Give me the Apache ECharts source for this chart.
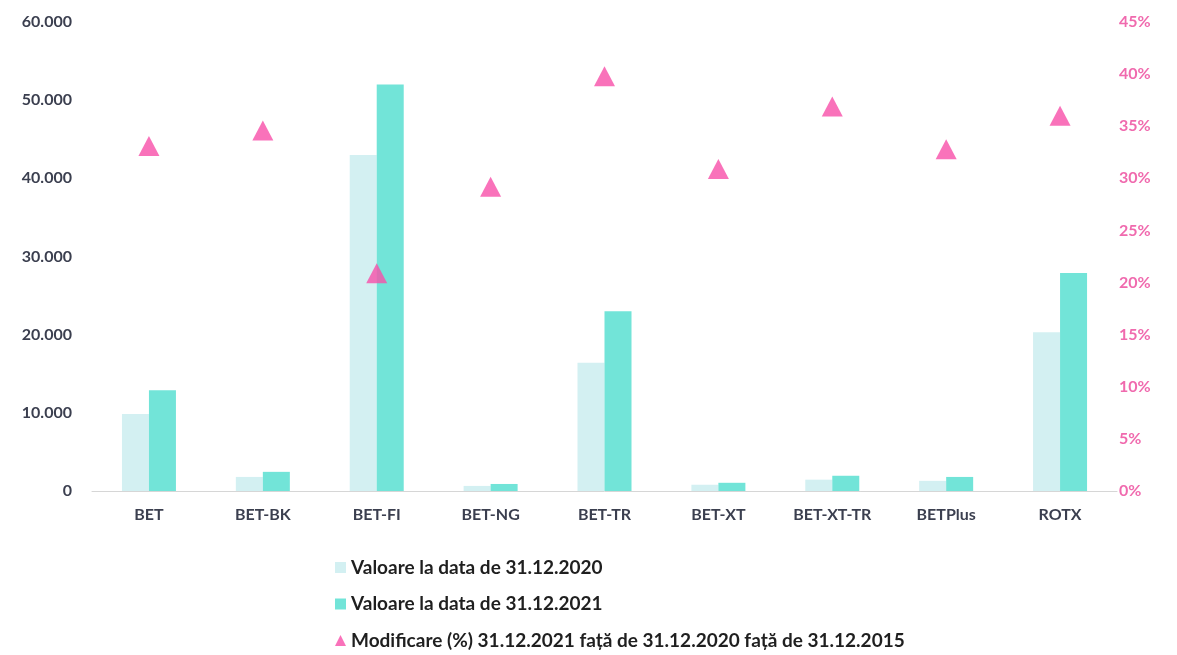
<!DOCTYPE html>
<html>
<head>
<meta charset="utf-8">
<script src="https://cdn.jsdelivr.net/npm/echarts@6/dist/echarts.min.js"></script>
<style>
  html, body { margin: 0; padding: 0; background: #fff; }
  #chart { width: 1177px; height: 655px; }
</style>
</head>
<body>
<div id="chart"></div>
<script>
  const categories = ['BET', 'BET-BK', 'BET-FI', 'BET-NG', 'BET-TR', 'BET-XT', 'BET-XT-TR', 'BETPlus', 'ROTX'];
  const values2020 = [9850, 1800, 43000, 650, 16400, 800, 1450, 1300, 20300];
  const values2021 = [12900, 2450, 52000, 900, 23000, 1050, 1950, 1800, 27900];
  const changePct = [33.1, 34.6, 20.9, 29.2, 39.8, 30.9, 36.9, 32.8, 36.0];

  const names = [
    'Valoare la data de 31.12.2020',
    'Valoare la data de 31.12.2021',
    'Modificare (%) 31.12.2021 față de 31.12.2020 față de 31.12.2015'
  ];

  const font = 'Lato, "Open Sans", sans-serif';
  const chart = echarts.init(document.getElementById('chart'));

  chart.setOption({
    animation: false,
    textStyle: { fontFamily: font },
    grid: { left: 92, right: 60, top: 22, bottom: 164 },
    legend: {
      orient: 'vertical',
      left: 335,
      top: 558,
      height: 120,
      padding: 0,
      itemGap: 17.5,
      itemWidth: 11,
      itemHeight: 11,
      textStyle: { fontFamily: font, fontSize: 19, fontWeight: 'bold', color: '#1f1f1f' },
      data: [
        { name: names[0], icon: 'rect' },
        { name: names[1], icon: 'rect' },
        { name: names[2], icon: 'triangle' }
      ]
    },
    xAxis: {
      type: 'category',
      data: categories,
      axisLine: { lineStyle: { color: '#d6d6d6', width: 1 } },
      axisTick: { show: false },
      axisLabel: { color: '#3b3f4f', fontSize: 16, fontWeight: 'bold', margin: 16 }
    },
    yAxis: [
      {
        type: 'value',
        min: 0, max: 60000, interval: 10000,
        splitLine: { show: false },
        axisLine: { show: false },
        axisLabel: {
          color: '#3b3f4f', fontSize: 16, fontWeight: 'bold', margin: 20,
          formatter: v => v === 0 ? '0' : (v / 1000).toFixed(0) + '.000'
        }
      },
      {
        type: 'value',
        min: 0, max: 45, interval: 5,
        splitLine: { show: false },
        axisLine: { show: false },
        axisLabel: { color: '#f06aae', fontSize: 16, fontWeight: 'bold', margin: 2, align: 'left', formatter: '{value}%' }
      }
    ],
    series: [
      {
        name: names[0], type: 'bar', data: values2020,
        barWidth: 27, barGap: '0%',
        itemStyle: { color: '#d3f0f2' }
      },
      {
        name: names[1], type: 'bar', data: values2021,
        barWidth: 27,
        itemStyle: { color: '#72e4d8' }
      },
      {
        name: names[2], type: 'scatter', yAxisIndex: 1, data: changePct,
        symbol: 'triangle', symbolSize: [21, 20],
        itemStyle: { color: '#f74fa9' },
        z: 5
      }
    ]
  });
</script>
</body>
</html>
